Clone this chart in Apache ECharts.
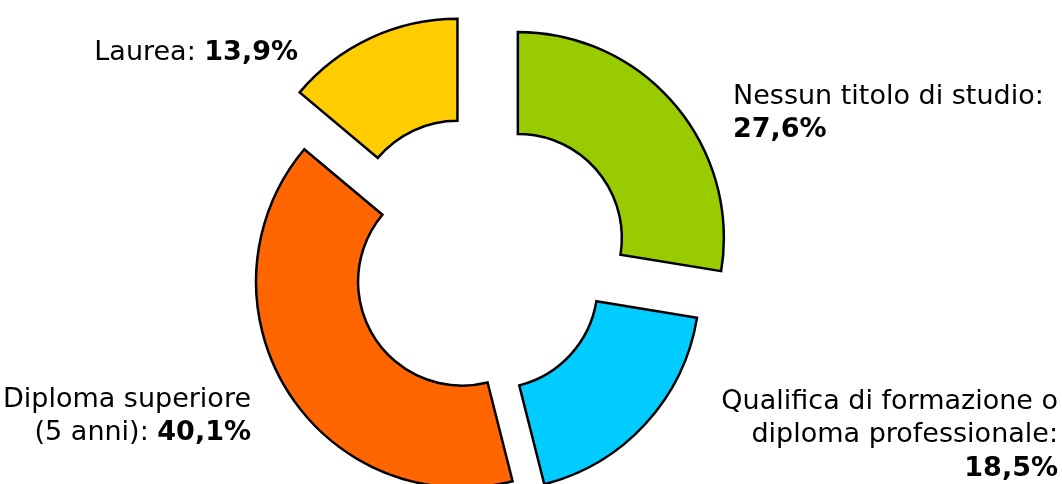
<!DOCTYPE html>
<html>
<head>
<meta charset="utf-8">
<script src="https://cdn.jsdelivr.net/npm/echarts@6/dist/echarts.min.js"></script>
<style>
  html, body { margin: 0; padding: 0; background: #fff; }
  #chart { width: 1062px; height: 484px; }
</style>
</head>
<body>
<div id="chart"></div>
<script>
// ---- data ----
const categories = [
  'Nessun titolo di studio',
  'Qualifica di formazione o\ndiploma professionale',
  'Diploma superiore\n(5 anni)',
  'Laurea'
];
const values = [27.6, 18.5, 40.1, 13.9];
const valueOnNewLine = [true, true, false, false];

// ---- styles ----
const colors = ['#99CC00', '#00CCFF', '#FF6600', '#FFCC00'];
const bigExplode = [true, false, false, true];
const labelPlace = [
  { x: 733, y: 80, align: 'left' },
  { x: 1058, y: 385, align: 'right' },
  { x: 251, y: 383, align: 'right' },
  { x: 298, y: 36, align: 'right' }
];

const fmt = v => v.toFixed(1).replace('.', ',') + '%';

function makeData(group) {
  return categories.map((name, i) => {
    const visible = bigExplode[i] === group;
    if (!visible) {
      return {
        name, value: values[i],
        itemStyle: { color: 'rgba(0,0,0,0)', borderWidth: 0 }
      };
    }
    return {
      name, value: values[i], selected: true,
      itemStyle: { color: colors[i] }
    };
  });
}

const richStyle = {
  n: { fontFamily: 'DejaVu Sans', fontSize: 27, color: '#111', lineHeight: 33.5 },
  b: { fontFamily: 'DejaVu Sans', fontSize: 27, fontWeight: 'bold', color: '#000', lineHeight: 33.5 }
};

function makeSeries(group, offset) {
  return {
    type: 'pie',
    center: [479, 271],
    radius: [104, 206],
    startAngle: 90,
    clockwise: true,
    selectedMode: 'multiple',
    selectedOffset: offset,
    avoidLabelOverlap: false,
    animation: false,
    silent: true,
    emphasis: { disabled: true },
    itemStyle: { borderColor: '#000', borderWidth: 2.5, borderJoin: 'miter' },
    select: { itemStyle: { borderColor: '#000', borderWidth: 2.5 } },
    label: { show: false },
    labelLine: { show: false },
    data: makeData(group)
  };
}

const labels = categories.map((name, i) => ({
  type: 'text',
  x: labelPlace[i].x,
  y: labelPlace[i].y,
  silent: true,
  style: {
    text: '{n|' + name + ':' + (valueOnNewLine[i] ? '}\n' : ' }') + '{b|' + fmt(values[i]) + '}',
    rich: richStyle,
    align: labelPlace[i].align,
    verticalAlign: 'top',
    font: '27px "DejaVu Sans"'
  }
}));

const chart = echarts.init(document.getElementById('chart'), null, { renderer: 'canvas' });
chart.setOption({
  backgroundColor: '#fff',
  animation: false,
  graphic: labels,
  series: [makeSeries(true, 51), makeSeries(false, 20)]
});
</script>
</body>
</html>
